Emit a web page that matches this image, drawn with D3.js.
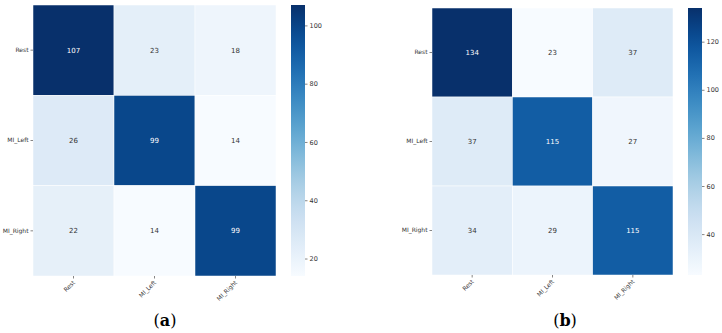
<!DOCTYPE html>
<html>
<head>
<meta charset="utf-8">
<script src="https://cdn.jsdelivr.net/npm/d3@7"></script>
<style>
  body { margin: 0; background: #fff; }
  text { font-family: "DejaVu Sans", sans-serif; }
</style>
</head>
<body>
<script>
// class names (rows = true, columns = predicted)
var classes = ["Rest", "MI_Left", "MI_Right"];

// confusion matrix (a)
var matrixA = [
  [107, 23, 18],
  [26, 99, 14],
  [22, 14, 99]
];
// confusion matrix (b)
var matrixB = [
  [134, 23, 37],
  [37, 115, 27],
  [34, 29, 115]
];

var ticksA = [20, 40, 60, 80, 100];
var ticksB = [40, 60, 80, 100, 120];
var captions = ["(a)", "(b)"];

var w = 722;
var h = 333;

var svg = d3.select("body")
  .append("svg")
  .attr("width", w)
  .attr("height", h);

var defs = svg.append("defs");

// layout of each panel
var panels = [
  { data: matrixA, ticks: ticksA, caption: captions[0],
    x0: 33, x1: 276, y0: 5, y1: 276, cbx: 291, cbw: 14, cby0: 5, cby1: 276, capx: 165 },
  { data: matrixB, ticks: ticksB, caption: captions[1],
    x0: 432, x1: 673, y0: 8, y1: 275, cbx: 688, cbw: 14, cby0: 8, cby1: 275, capx: 565 }
];

panels.forEach(function(p, k) {
  var flat = [];
  p.data.forEach(function(row, i) {
    row.forEach(function(v, j) { flat.push({ r: i, c: j, v: v }); });
  });
  var vmin = d3.min(flat, function(d) { return d.v; });
  var vmax = d3.max(flat, function(d) { return d.v; });

  var color = d3.scaleSequential(d3.interpolateBlues).domain([vmin, vmax]);

  var xScale = d3.scaleBand().domain(d3.range(classes.length)).range([p.x0, p.x1]);
  var yScale = d3.scaleBand().domain(d3.range(classes.length)).range([p.y0, p.y1]);

  var g = svg.append("g");

  // cells
  g.selectAll("rect.cell")
    .data(flat)
    .enter()
    .append("rect")
    .attr("class", "cell")
    .attr("x", function(d) { return xScale(d.c); })
    .attr("y", function(d) { return yScale(d.r); })
    .attr("width", xScale.bandwidth())
    .attr("height", yScale.bandwidth())
    .attr("fill", function(d) { return color(d.v); })
    .attr("stroke", "#fff")
    .attr("stroke-width", 0.5);

  // annotations
  g.selectAll("text.val")
    .data(flat)
    .enter()
    .append("text")
    .attr("class", "val")
    .attr("x", function(d) { return xScale(d.c) + xScale.bandwidth() / 2; })
    .attr("y", function(d) { return yScale(d.r) + yScale.bandwidth() / 2; })
    .attr("text-anchor", "middle")
    .attr("dy", "0.35em")
    .attr("font-size", 7)
    .attr("fill", function(d) { return (d.v - vmin) / (vmax - vmin) > 0.5 ? "#fff" : "#333"; })
    .text(function(d) { return d.v; });

  // y axis labels
  var yAxis = d3.axisLeft(yScale).tickSize(2.5).tickPadding(2)
    .tickFormat(function(i) { return classes[i]; });
  var ya = g.append("g")
    .attr("transform", "translate(" + p.x0 + ",0)")
    .call(yAxis);
  ya.select(".domain").remove();
  ya.selectAll("text").attr("font-size", 6).attr("fill", "#333");
  ya.selectAll("line").attr("stroke", "#333").attr("stroke-width", 0.6);

  // x axis labels, rotated
  var xAxis = d3.axisBottom(xScale).tickSize(2.5).tickPadding(2)
    .tickFormat(function(i) { return classes[i]; });
  var xa = g.append("g")
    .attr("transform", "translate(0," + p.y1 + ")")
    .call(xAxis);
  xa.select(".domain").remove();
  xa.selectAll("line").attr("stroke", "#333").attr("stroke-width", 0.6);
  xa.selectAll("text")
    .attr("font-size", 6)
    .attr("fill", "#333")
    .attr("text-anchor", "end")
    .attr("dy", 0)
    .attr("y", 0)
    .attr("transform", "translate(2,7) rotate(-45)");

  // colorbar
  var gid = "grad" + k;
  var grad = defs.append("linearGradient")
    .attr("id", gid)
    .attr("x1", 0).attr("y1", 1).attr("x2", 0).attr("y2", 0);
  d3.range(0, 1.0001, 0.05).forEach(function(t) {
    grad.append("stop")
      .attr("offset", t)
      .attr("stop-color", color(vmin + t * (vmax - vmin)));
  });
  g.append("rect")
    .attr("x", p.cbx)
    .attr("y", p.cby0)
    .attr("width", p.cbw)
    .attr("height", p.cby1 - p.cby0)
    .attr("fill", "url(#" + gid + ")");

  var cbScale = d3.scaleLinear().domain([vmin, vmax]).range([p.cby1, p.cby0]);
  var cbAxis = d3.axisRight(cbScale).tickValues(p.ticks).tickSize(2.5).tickPadding(2);
  var ca = g.append("g")
    .attr("transform", "translate(" + (p.cbx + p.cbw) + ",0)")
    .call(cbAxis);
  ca.select(".domain").remove();
  ca.selectAll("text").attr("font-size", 6.5).attr("fill", "#333");
  ca.selectAll("line").attr("stroke", "#333").attr("stroke-width", 0.6);

  // caption
  var cap = svg.append("text")
    .attr("x", p.capx)
    .attr("y", 326)
    .attr("text-anchor", "middle")
    .attr("font-size", 16)
    .style("font-family", "'DejaVu Serif', 'Liberation Serif', serif");
  cap.append("tspan").text("(");
  cap.append("tspan").attr("font-weight", "bold").text(p.caption.slice(1, -1));
  cap.append("tspan").text(")");
});
</script>
</body>
</html>
